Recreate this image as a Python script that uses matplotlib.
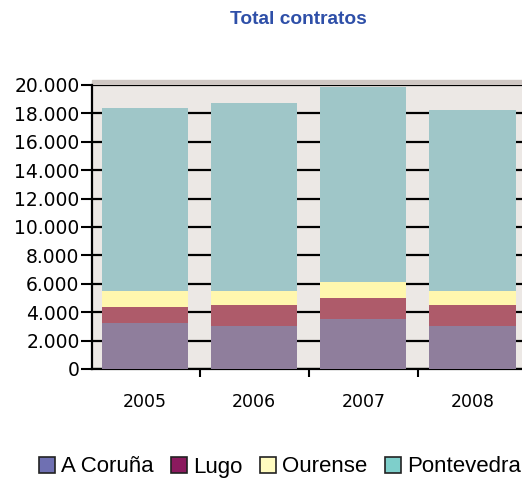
import matplotlib.pyplot as plt
import matplotlib.patches as mpatches
from matplotlib.ticker import FuncFormatter
import numpy as np

plt.rcParams['font.family'] = ['Liberation Sans', 'DejaVu Sans']

years = ['2005', '2006', '2007', '2008']
provincias = ['A Coruña', 'Lugo', 'Ourense', 'Pontevedra']
a_coruna = [3220, 3050, 3520, 3050]
lugo = [1130, 1460, 1460, 1460]
ourense = [1130, 970, 1130, 990]
pontevedra = [12930, 13280, 13770, 12750]

bar_colors = ['#8f7e9c', '#ae5b6a', '#fff7ae', '#9fc6c8']
legend_colors = ['#6f70b2', '#8b1a5e', '#fffbc0', '#7ecfcb']

fig = plt.figure(figsize=(5.22, 4.79), dpi=100)
ax = fig.add_axes([92 / 522, 1 - 369 / 479, 435 / 522, 284 / 479])
ax.set_facecolor('#ece8e5')

x = np.arange(len(years))
bottom = np.zeros(len(years))
for vals, c in zip([a_coruna, lugo, ourense, pontevedra], bar_colors):
    ax.bar(x, vals, width=0.79, bottom=bottom, color=c, zorder=3)
    bottom += np.array(vals)

ax.set_xlim(-0.486, 3.5)
ax.set_ylim(0, 20000)
ax.set_yticks(np.arange(0, 20001, 2000))
ax.yaxis.set_major_formatter(FuncFormatter(lambda v, p: f'{int(v):,}'.replace(',', '.')))
ax.grid(axis='y', color='black', linewidth=1.6, zorder=1)

ax.set_xticks(x)
ax.set_xticklabels(years, family='DejaVu Sans')
ax.set_xticks([0.505, 1.505, 2.505], minor=True)
ax.tick_params(axis='x', which='major', length=0, pad=17, labelsize=12.5)
ax.tick_params(axis='x', which='minor', length=6, width=1.5, direction='out')
ax.tick_params(axis='y', length=8, width=1.5, direction='out', labelsize=13.5, pad=1)
for lab in ax.get_yticklabels():
    lab.set_family('DejaVu Sans')

for s in ['top', 'right']:
    ax.spines[s].set_visible(False)
ax.spines['left'].set_linewidth(1.6)
ax.spines['bottom'].set_linewidth(1.6)

# light edge above the plot area
fig.add_artist(mpatches.Rectangle((92 / 522, 1 - 84 / 479), 435 / 522, 4 / 479,
                                  transform=fig.transFigure, color='#cfc7c3', zorder=0))

fig.text(298 / 522, 1 - 19 / 479, 'Total contratos', ha='center', va='center',
         fontsize=13.8, fontweight='bold', color='#2e4fa8')

handles = [mpatches.Patch(facecolor=c, edgecolor='#222222', linewidth=1.2, label=n)
           for c, n in zip(legend_colors, provincias)]
fig.legend(handles=handles, loc='center', bbox_to_anchor=(280 / 522, 1 - 467 / 479),
           ncol=4, frameon=False, fontsize=16, handlelength=0.72, handleheight=0.75,
           handletextpad=0.27, columnspacing=0.8, borderaxespad=0, borderpad=0)

fig.savefig('out.png', dpi=100)
